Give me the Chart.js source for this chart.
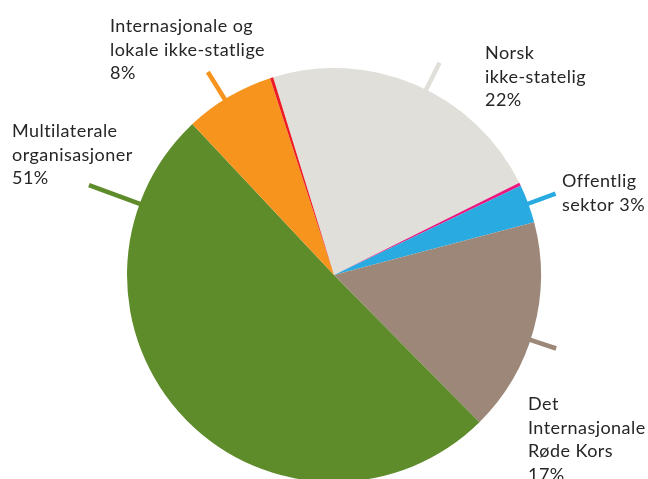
<!DOCTYPE html>
<html>
<head>
<meta charset="utf-8">
<script src="https://cdn.jsdelivr.net/npm/chart.js@4/dist/chart.umd.min.js"></script>
<style>
html,body{margin:0;padding:0;background:#fff;overflow:hidden;}
#wrap{position:relative;width:648px;height:479px;}
</style>
</head>
<body>
<div id="wrap"><canvas id="c" width="648" height="479"></canvas></div>
<script>
// Slices, clockwise from the top (grey first)
const categories = [
  "Norsk ikke-statelig",
  "(annet)",
  "Offentlig sektor",
  "Det Internasjonale Røde Kors",
  "Multilaterale organisasjoner",
  "Internasjonale og lokale ikke-statlige",
  "(annet 2)"
];
const shares = [22.4, 0.25, 3.0, 16.7, 50.4, 7.0, 0.25];
const colors = ["#e0dfd9", "#e8197f", "#29abe2", "#9c8778", "#5e8c2b", "#f7941e", "#ed1c24"];

// Label texts (lines) for the annotated slices
const labelLines = {
  0: ["Norsk", "ikke-statelig", "22%"],
  2: ["Offentlig", "sektor 3%"],
  3: ["Det", "Internasjonale", "Røde Kors", "17%"],
  4: ["Multilaterale", "organisasjoner", "51%"],
  5: ["Internasjonale og", "lokale ikke-statlige", "8%"]
};

// Annotation layout (leader position along slice, leader length, text anchor)
const annot = {
  0: {frac: 0.54, len: 30, x: 485, y: 59},
  2: {frac: 0.5,  len: 29, x: 562, y: 187},
  3: {frac: 0.55, len: 27, x: 528, y: 410},
  4: {frac: 0.853,len: 54, x: 12,  y: 137},
  5: {frac: 0.45, len: 32, x: 110, y: 32}
};

const leaderPlugin = {
  id: 'leaders',
  afterDatasetsDraw(chart) {
    const ctx = chart.ctx;
    const meta = chart.getDatasetMeta(0);
    ctx.save();
    Object.keys(annot).forEach(k => {
      const i = +k;
      const arc = meta.data[i];
      const a = annot[i];
      const p = arc.getProps(['x','y','startAngle','endAngle','outerRadius'], true);
      const ang = p.startAngle + (p.endAngle - p.startAngle) * a.frac;
      const r0 = p.outerRadius - 1, r1 = p.outerRadius + a.len;
      ctx.beginPath();
      ctx.moveTo(p.x + Math.cos(ang) * r0, p.y + Math.sin(ang) * r0);
      ctx.lineTo(p.x + Math.cos(ang) * r1, p.y + Math.sin(ang) * r1);
      ctx.strokeStyle = colors[i];
      ctx.lineWidth = 4.5;
      ctx.lineCap = 'butt';
      ctx.stroke();
      ctx.fillStyle = '#262626';
      ctx.font = '18px Lato, "Noto Sans", sans-serif';
      if ('letterSpacing' in ctx) ctx.letterSpacing = '0.45px';
      ctx.textBaseline = 'alphabetic';
      ctx.textAlign = 'left';
      labelLines[i].forEach((t, j) => ctx.fillText(t, a.x, a.y + j * 23.5));
    });
    ctx.restore();
  }
};

new Chart(document.getElementById('c'), {
  type: 'pie',
  data: {
    labels: categories,
    datasets: [{
      data: shares,
      backgroundColor: colors,
      borderWidth: 0,
      clip: false
    }]
  },
  options: {
    responsive: false,
    animation: false,
    rotation: -17.1,
    radius: 207,
    layout: {padding: {left: 20, right: 0, top: 71, bottom: 0}},
    plugins: {legend: {display: false}, tooltip: {enabled: false}}
  },
  plugins: [leaderPlugin]
});
</script>
</body>
</html>
